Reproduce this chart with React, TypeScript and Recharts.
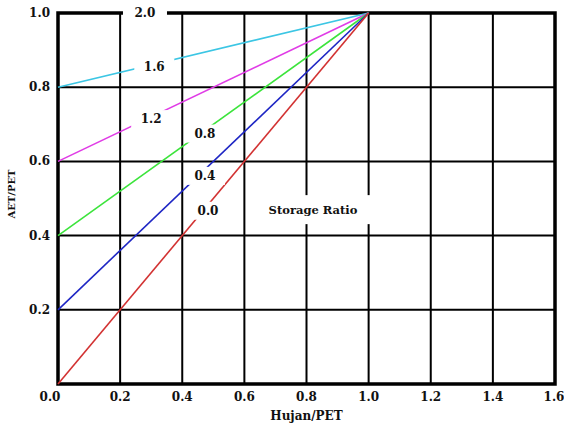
import { LineChart, Line, XAxis, YAxis, CartesianGrid, ReferenceArea, ReferenceDot } from 'recharts';

// storage ratio curves: AET/PET goes from start value at Hujan/PET = 0 up to 1.0 at Hujan/PET = 1
const ratioNames = ['1.6', '1.2', '0.8', '0.4', '0.0'];
const ratioKeys = ['r16', 'r12', 'r08', 'r04', 'r00'];
const hujanPoints = [0, 1];
const aetStart = [0.8, 0.6, 0.4, 0.2, 0.0];
const aetEnd = [1, 1, 1, 1, 1];
const colors = ['#3cc6e4', '#e03ce6', '#3ce43c', '#1e26c4', '#d23232'];

const xTicks = [0, 0.2, 0.4, 0.6, 0.8, 1.0, 1.2, 1.4, 1.6];
const yTicks = [0.2, 0.4, 0.6, 0.8, 1.0];

// where each ratio label is placed (Hujan/PET, AET/PET)
const labelX = [0.31, 0.3, 0.473, 0.473, 0.483];
const labelY = [0.854, 0.714, 0.675, 0.561, 0.467];

const data = hujanPoints.map((h, i) => {
  const row: Record<string, number> = { h };
  ratioKeys.forEach((k, j) => {
    row[k] = i === 0 ? aetStart[j] : aetEnd[j];
  });
  return row;
});

const FONT = "'DejaVu Serif', serif";
const textStyle = { fontFamily: FONT, fontWeight: 700 };

const boxLabel = (text: string, w: number, h: number, size: number) => (props: any) => {
  const { cx, cy } = props;
  return (
    <g>
      <rect x={cx - w / 2} y={cy - h / 2} width={w} height={h} fill="#fff" />
      <text x={cx} y={cy} textAnchor="middle" dominantBaseline="central"
        style={textStyle} fontSize={size} fill="#111">{text}</text>
    </g>
  );
};

const XTick = (props: any) => {
  const { x, y, payload } = props;
  return (
    <text x={x + (payload.value === 0 ? -8 : 0)} y={y} dy="0.71em" textAnchor="middle"
      style={textStyle} fontSize={12} fill="#111">
      {payload.value.toFixed(1)}
    </text>
  );
};

const YTick = (props: any) => {
  const { x, y, payload } = props;
  return (
    <text x={x} y={y} dominantBaseline="central" textAnchor="end"
      style={textStyle} fontSize={12} fill="#111">
      {payload.value.toFixed(1)}
    </text>
  );
};

export default function App() {
  return (
    <div style={{ position: 'absolute', left: 0, top: 0, background: '#fff' }}>
      <LineChart width={564} height={423} data={data} margin={{ top: 13, right: 9, bottom: 0, left: 0 }}>
        <CartesianGrid stroke="#000" strokeWidth={2} />
        <XAxis
          dataKey="h"
          type="number"
          domain={[0, 1.6]}
          ticks={xTicks}
          height={39}
          axisLine={false}
          tickLine={false}
          tickSize={0}
          tickMargin={8}
          tick={<XTick />}
          label={{ value: 'Hujan/PET', position: 'insideBottom', offset: 3, style: textStyle, fontSize: 12, fill: '#111' }}
        />
        <YAxis
          type="number"
          domain={[0, 1]}
          ticks={yTicks}
          width={58}
          axisLine={false}
          tickLine={false}
          tickSize={0}
          tickMargin={8}
          tick={<YTick />}
          label={{
            content: () => (
              <text x={11} y={194} transform="rotate(-90, 11, 194)" textAnchor="middle" dominantBaseline="central"
                style={textStyle} fontSize={10} fill="#111">AET/PET</text>
            ),
          }}
        />
        {ratioKeys.map((k, i) => (
          <Line key={k} dataKey={k} stroke={colors[i]} strokeWidth={1.6} dot={false} isAnimationActive={false} />
        ))}
        <ReferenceArea x1={0} x2={1.6} y1={0} y2={1} fill="none" stroke="#000" strokeWidth={3.5} ifOverflow="visible" />
        <ReferenceDot x={0.28} y={1} ifOverflow="visible" shape={boxLabel('2.0', 44, 16, 12)} />
        {ratioNames.map((name, i) => (
          <ReferenceDot key={name} x={labelX[i]} y={labelY[i]} ifOverflow="visible" shape={boxLabel(name, 40, 18, 12)} />
        ))}
        <ReferenceDot x={0.821} y={0.47} ifOverflow="visible" shape={boxLabel('Storage Ratio', 120, 29, 11.5)} />
      </LineChart>
    </div>
  );
}
